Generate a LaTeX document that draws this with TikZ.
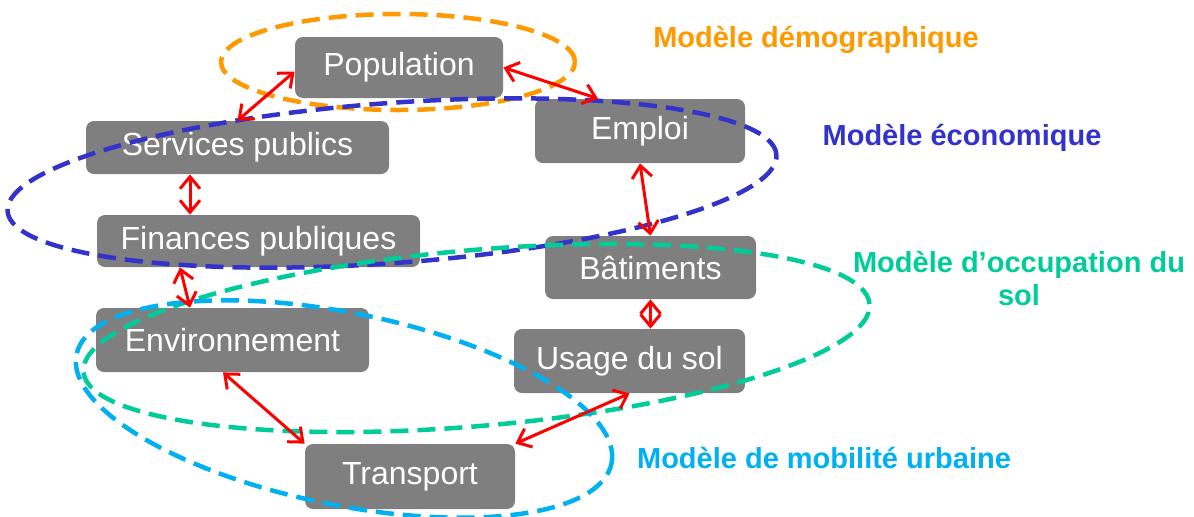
\documentclass[tikz,border=0pt]{standalone}
\usepackage{fontspec}
\setmainfont{Liberation Sans}
\usetikzlibrary{arrows.meta,calc}
\definecolor{boxgray}{HTML}{7F7F7F}
\definecolor{demo}{HTML}{FF9900}
\definecolor{eco}{HTML}{3333CC}
\definecolor{occ}{HTML}{00CC99}
\definecolor{mob}{HTML}{00B0F0}
\definecolor{arr}{HTML}{FF0000}
\begin{document}
\begin{tikzpicture}[x=0.5pt,y=-0.5pt,
 box/.style={fill=boxgray, rounded corners=4pt, text=white, font=\fontsize{16}{19}\selectfont, inner sep=0pt},
 zone/.style={line width=2.25pt, dash pattern=on 9pt off 4.5pt},
 link/.style={draw=arr, line width=1.5pt, {Straight Barb[length=6pt,width=10pt]}-{Straight Barb[length=6pt,width=10pt]}},
 lab/.style={font=\fontsize{14.5}{16.5}\selectfont\bfseries, align=center}]
\useasboundingbox (0,0) rectangle (1194,516);
% boxes
\node[box, minimum width=104pt, minimum height=30.5pt] (pop) at (399,67.5) {Population};
\node[box, minimum width=151.5pt, minimum height=26.5pt] (serv) at (237.5,147.5) {Services publics};
\node[box, minimum width=161.5pt, minimum height=26pt] (fin) at (258.5,241) {Finances publiques};
\node[box, minimum width=105pt, minimum height=32pt] (emp) at (640,131) {Emploi};
\node[box, minimum width=105.5pt, minimum height=31.5pt] (bat) at (650.5,267.5) {Bâtiments};
\node[box, minimum width=115.5pt, minimum height=32pt] (usage) at (629.5,361) {Usage du sol};
\node[box, minimum width=136.5pt, minimum height=32pt] (env) at (232.5,340) {Environnement};
\node[box, minimum width=105pt, minimum height=32.5pt] (trans) at (410,476.5) {Transport};
% zones
\draw[zone, demo] (398,62) ellipse [x radius=88.5pt, y radius=24pt];
\draw[zone, eco, rotate around={4.2:(392,183)}] (392,183) ellipse [x radius=192.75pt, y radius=40pt];
\draw[zone, occ, rotate around={4.94:(476.5,338)}] (476.5,338) ellipse [x radius=197.25pt, y radius=44pt];
\draw[zone, mob, rotate around={-11.5:(344,409)}] (344,409) ellipse [x radius=136.5pt, y radius=48pt];
% links
\draw[link] ($(pop.west)+(0,4)$) -- (serv.north);
\draw[link] (pop.east) -- ($(emp.north)+(-42,0)$);
\draw[link] ($(serv.south)+(-47.5,0)$) -- ($(fin.north)+(-68.5,0)$);
\draw[link] ($(fin.south)+(-78.5,0)$) -- ($(env.north)+(-42.5,0)$);
\draw[link] (emp.south) -- (bat.north);
\draw[link] (bat.south) -- ($(usage.north)+(21,0)$);
\draw[link] ($(env.south)+(-9.5,0)$) -- (trans.north west);
\draw[link] (usage.south) -- (trans.north east);
% labels
\node[lab, text=demo] (ldemo) at (816,40) {Modèle démographique};
\node[lab, text=eco] (leco) at (962,138) {Modèle économique};
\node[lab, text=occ] (locc) at (1019,278) {Modèle d’occupation du\\sol};
\node[lab, text=mob] (lmob) at (824,458) {Modèle de mobilité urbaine};
\end{tikzpicture}
\end{document}
